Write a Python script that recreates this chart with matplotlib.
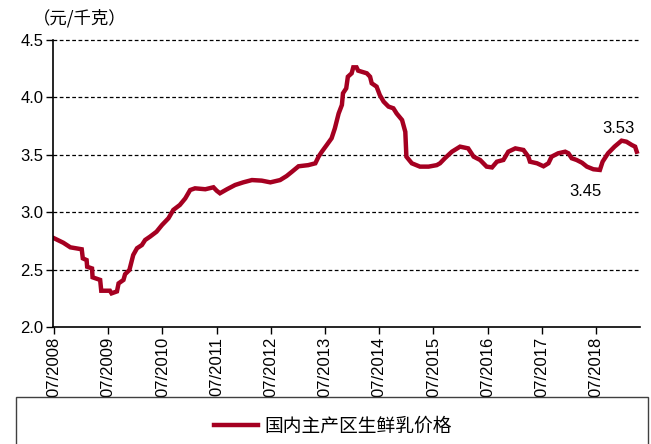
import matplotlib
matplotlib.use("Agg")
import matplotlib.pyplot as plt
from matplotlib.patches import Rectangle
from matplotlib.lines import Line2D

plt.rcParams['font.family'] = ['Liberation Sans', 'Noto Sans CJK SC', 'DejaVu Sans']

# Data: decimal year -> price (yuan/kg)
years = [2008.50, 2008.67, 2008.80, 2009.01, 2009.03, 2009.10, 2009.11, 2009.20, 2009.21,
         2009.35, 2009.37, 2009.53, 2009.56, 2009.66, 2009.69, 2009.78, 2009.81, 2009.89,
         2009.96, 2010.03, 2010.12, 2010.18, 2010.27, 2010.39, 2010.49, 2010.61, 2010.70,
         2010.82, 2010.92, 2011.01, 2011.10, 2011.29, 2011.44, 2011.50, 2011.56, 2011.69,
         2011.84, 2011.99, 2012.15, 2012.33, 2012.49, 2012.67, 2012.79, 2012.89, 2013.01,
         2013.19, 2013.32, 2013.38, 2013.44, 2013.53, 2013.62, 2013.68, 2013.75, 2013.81,
         2013.83, 2013.89, 2013.92, 2013.99, 2014.02, 2014.08, 2014.11, 2014.27, 2014.33,
         2014.36, 2014.45, 2014.51, 2014.58, 2014.67, 2014.76, 2014.82, 2014.92, 2014.98,
         2015.00, 2015.10, 2015.25, 2015.41, 2015.56, 2015.62, 2015.71, 2015.84, 2015.99,
         2016.14, 2016.24, 2016.36, 2016.48, 2016.58, 2016.67, 2016.79, 2016.88, 2017.01,
         2017.16, 2017.25, 2017.28, 2017.41, 2017.53, 2017.62, 2017.68, 2017.80, 2017.93,
         2017.99, 2018.05, 2018.14, 2018.24, 2018.33, 2018.45, 2018.57, 2018.62, 2018.72,
         2018.84, 2018.97, 2019.06, 2019.16, 2019.22, 2019.25]
prices = [2.773, 2.734, 2.694, 2.677, 2.598, 2.583, 2.525, 2.510, 2.433,
          2.410, 2.316, 2.316, 2.293, 2.310, 2.380, 2.410, 2.460, 2.497,
          2.627, 2.686, 2.714, 2.758, 2.787, 2.830, 2.888, 2.947, 3.020,
          3.063, 3.120, 3.193, 3.208, 3.200, 3.217, 3.187, 3.165, 3.200,
          3.237, 3.260, 3.280, 3.275, 3.260, 3.280, 3.315, 3.353, 3.400,
          3.410, 3.426, 3.484, 3.527, 3.585, 3.644, 3.730, 3.860, 3.934,
          4.036, 4.079, 4.180, 4.210, 4.262, 4.262, 4.233, 4.210, 4.180,
          4.123, 4.094, 4.020, 3.963, 3.920, 3.905, 3.860, 3.803, 3.700,
          3.484, 3.426, 3.397, 3.397, 3.410, 3.426, 3.470, 3.527, 3.571,
          3.556, 3.484, 3.455, 3.397, 3.390, 3.440, 3.455, 3.527, 3.556,
          3.542, 3.484, 3.440, 3.426, 3.400, 3.426, 3.484, 3.513, 3.527,
          3.513, 3.470, 3.455, 3.431, 3.397, 3.374, 3.368, 3.440, 3.513,
          3.571, 3.623, 3.614, 3.585, 3.571, 3.527]

tick_years = [2008.5, 2009.5, 2010.5, 2011.5, 2012.5, 2013.5, 2014.5, 2015.5, 2016.5, 2017.5, 2018.5]
tick_labels = ["07/2008", "07/2009", "07/2010", "07/2011", "07/2012", "07/2013",
               "07/2014", "07/2015", "07/2016", "07/2017", "07/2018"]
y_ticks = [2.0, 2.5, 3.0, 3.5, 4.0, 4.5]
series_name = "国内主产区生鲜乳价格"
unit_label = "（元/千克）"
annotations = [("3.53", 2018.91, 3.733), ("3.45", 2018.30, 3.176)]

W, H = 651, 444
fig = plt.figure(figsize=(W / 100, H / 100), dpi=100)
ax = fig.add_axes([53 / W, 1 - 327 / H, (640 - 53) / W, (327 - 40) / H])

color = '#A50021'
ax.plot(years, prices, color=color, lw=3.2, solid_joinstyle='miter')

ax.set_xlim(2008.48, 2019.31)
ax.set_ylim(2.0, 4.5)
ax.set_yticks(y_ticks)
ax.set_yticklabels([f"{v:.1f}" for v in y_ticks], fontsize=12)
ax.set_xticks(tick_years)
ax.set_xticklabels(tick_labels, rotation=90, fontsize=12)
ax.tick_params(axis='both', direction='out', length=5, width=1, color='black', pad=2)

for v in y_ticks[1:]:
    ax.axhline(v, color='black', lw=0.9, ls=(0, (3, 2)), zorder=0, clip_on=False)

ax.spines['top'].set_visible(False)
ax.spines['right'].set_visible(False)
ax.spines['left'].set_linewidth(1.2)
ax.spines['bottom'].set_linewidth(1.2)

for txt, xx, yy in annotations:
    ax.text(xx, yy, txt, fontsize=12, ha='center', va='center')

fig.text(33 / W, 1 - 18 / H, unit_label, fontsize=12.5, ha='left', va='center',
         family=['Noto Sans CJK SC'])

# legend box
rect = Rectangle((16 / W, -0.05), (648 - 16) / W, (444 - 397) / H + 0.05,
                 transform=fig.transFigure, fill=False, edgecolor='#404040', lw=1.0)
fig.add_artist(rect)
handle = Line2D([], [], color=color, lw=3.2)
leg = fig.legend([handle], [series_name], loc='center', bbox_to_anchor=(333 / W, 1 - 426 / H),
                 frameon=False, handlelength=2.3, handletextpad=0.35,
                 prop={'family': ['Noto Sans CJK SC'], 'size': 13.5})

fig.savefig("out.png", dpi=100)
